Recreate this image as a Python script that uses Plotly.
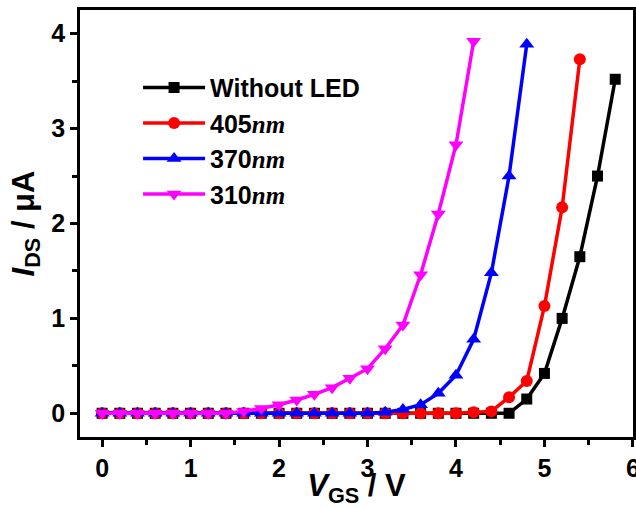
import plotly.graph_objects as go

vgs = [round(0.2 * i, 1) for i in range(30)]  # 0.0 .. 5.8

without_x = vgs[:30]
without_y = [0]*24 + [0.15, 0.42, 1.0, 1.65, 2.5, 3.52]

r405_x = vgs[:28]
r405_y = [0]*21 + [0.01, 0.02, 0.17, 0.34, 1.13, 2.17, 3.73]

r370_x = vgs[:25]
r370_y = [0]*16 + [0.01, 0.04, 0.09, 0.21, 0.4, 0.78, 1.48, 2.5, 3.89]

r310_x = vgs[:22]
r310_y = [0]*8 + [0.02, 0.05, 0.09, 0.14, 0.2, 0.27, 0.37, 0.47, 0.68, 0.93, 1.46, 2.1, 2.83, 3.92]

nm = "<span style='font-family:\"Liberation Serif\"'><i>nm</i></span>"
series = [
    ("Without LED", without_x, without_y, "#000000", "square", 11),
    ("405" + nm, r405_x, r405_y, "#ff0000", "circle", 12),
    ("370" + nm, r370_x, r370_y, "#0000ff", "triangle-up", 13),
    ("310" + nm, r310_x, r310_y, "#ff00ff", "triangle-down", 13),
]

fig = go.Figure()
for name, x, y, c, sym, ms in series:
    fig.add_trace(go.Scatter(
        x=x, y=y, name=name, mode="lines+markers",
        line=dict(color=c, width=3.5),
        marker=dict(color=c, symbol=sym, size=ms),
    ))

FAM = "Liberation Sans, Arial, sans-serif"
tick_font = dict(family=FAM, size=25, color="black", weight="bold")
title_font = dict(family=FAM, size=31, color="black", weight="bold")

axis_common = dict(
    showline=True, linecolor="black", linewidth=2.5, mirror=True,
    ticks="outside", ticklen=7, tickwidth=2.5, tickcolor="black",
    showgrid=False, zeroline=False, automargin=False,
    tickfont=tick_font, ticklabeloverflow="allow",
    minor=dict(ticks="outside", ticklen=5, tickwidth=2.5, tickcolor="black", dtick=0.5),
)

fig.update_layout(
    width=636, height=508,
    margin=dict(l=80, r=3, t=10, b=71),
    paper_bgcolor="white", plot_bgcolor="white",
    font=tick_font,
    xaxis=dict(range=[-0.25, 6.001], dtick=1, tick0=0,
               title=dict(text="<i>V</i><sub>GS</sub> / V", font=title_font, standoff=4),
               **axis_common),
    yaxis=dict(range=[-0.25, 4.25], dtick=1, tick0=0,
               title=dict(text="<i>I</i><sub>DS</sub> / μA", font=title_font, standoff=8),
               **axis_common),
    legend=dict(x=0.105, y=0.872, xanchor="left", yanchor="top",
                bgcolor="rgba(0,0,0,0)", itemwidth=62,
                font=dict(family=FAM, size=25, color="black", weight="bold"),
                tracegroupgap=0),
    showlegend=True,
)

fig.write_html("out.html", config={"displayModeBar": False},
               post_script="document.body.style.margin='0';")
